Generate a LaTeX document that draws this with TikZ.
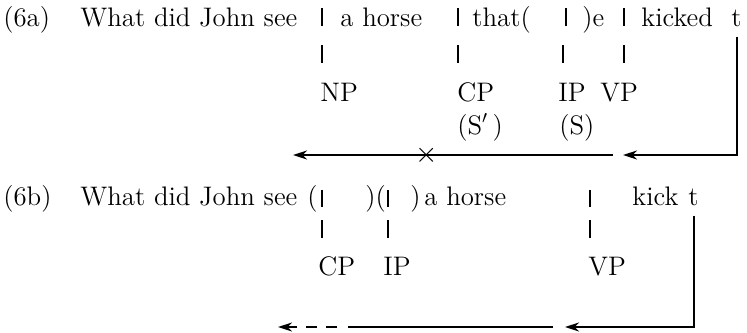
\documentclass[tikz,border=0pt]{standalone}
\usepackage{tikz}
\usetikzlibrary{arrows.meta,positioning,calc}

\begin{document}
\begin{tikzpicture}[x=0.5pt, y=-0.5pt,
    word/.style={anchor=base west, inner sep=0pt, font=\fontsize{13.4}{16}\selectfont},
    bar/.style={line width=1.1pt},
    arr/.style={-{Stealth[length=7pt, width=4.5pt]}, line width=1pt}
]
\useasboundingbox (0,0) rectangle (747,332);

% (6a)
\node[word] (numa) at (3,26) {(6a)};
\node[word] (wha) at (80,26) {What did John see};
\node[word] (hoa) at (340,26) {a horse};
\node[word] (tha) at (472,26) {that(};
\node[word] (ea) at (582,26) {)e};
\node[word] (kia) at (641,26) {kicked};
\node[word] (ta) at (731,26) {t};
\draw[bar] (322,8) -- (322,26);
\draw[bar] (458,8) -- (458,26);
\draw[bar] (566,8) -- (566,26);
\draw[bar] (624,8) -- (624,26);
\draw[bar] (322,45) -- (322,63);
\draw[bar] (458,45) -- (458,63);
\draw[bar] (563,45) -- (563,63);
\draw[bar] (624,45) -- (624,63);
\node[word] (npa) at (320,101) {NP};
\node[word] (cpa) at (457,101) {CP};
\node[word] (ipa) at (558,101) {IP};
\node[word] (vpa) at (600,101) {VP};
\node[word] (sba) at (457,134) {(S\smash{$'$}\,)};
\node[word] (sa) at (559,134) {(S)};
\coordinate (tipa) at (623,155);
\coordinate (taila) at (613,155);
\coordinate (enda) at (293,155);
\draw[arr] ([yshift=-5pt]ta.south) |- (tipa);
\draw[arr] (taila) -- (enda);
\node[inner sep=0pt, font=\fontsize{13.4}{16}\selectfont] (xa) at (427,155) {$\times$};

% (6b)
\node[word] (numb) at (3,205) {(6b)};
\node[word] (whb) at (80,205) {What did John see};
\node[word] (pob) at (307,205) {(};
\node[word] (pab) at (365,205) {)(};
\node[word] (pbb) at (410,205) {)};
\node[word] (hob) at (424,205) {a horse};
\node[word] (kib) at (632,205) {kick};
\node[word] (tb) at (688,205) {t};
\draw[bar] (322,190) -- (322,207);
\draw[bar] (388,190) -- (388,207);
\draw[bar] (590,190) -- (590,207);
\draw[bar] (322,220) -- (322,238);
\draw[bar] (388,220) -- (388,238);
\draw[bar] (590,220) -- (590,238);
\node[word] (cpb) at (318,275) {CP};
\node[word] (ipb) at (383,275) {IP};
\node[word] (vpb) at (588,275) {VP};
\coordinate (tipb) at (565,327);
\coordinate (tailb) at (553,327);
\coordinate (midb) at (348,327);
\coordinate (dashb) at (337,327);
\coordinate (endb) at (278,327);
\draw[arr] ([yshift=-5pt]tb.south) |- (tipb);
\draw[line width=1pt] (tailb) -- (midb);
\draw[arr, dash pattern=on 5.5pt off 4.5pt] (dashb) -- (endb);
\end{tikzpicture}
\end{document}
